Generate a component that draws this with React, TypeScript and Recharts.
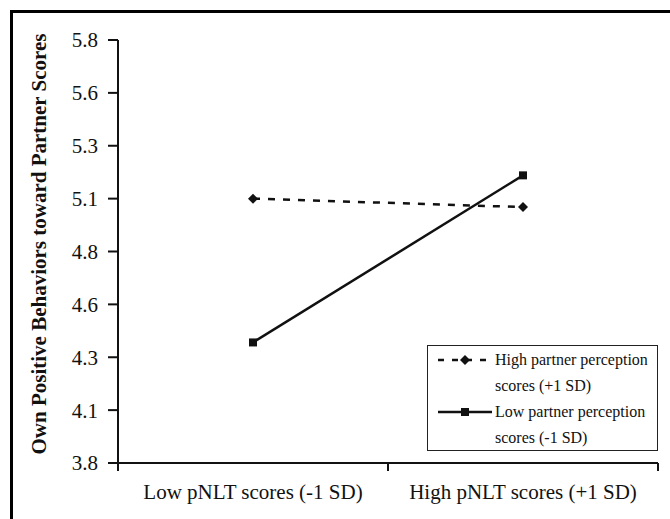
import React from 'react';
import { LineChart, Line, XAxis, YAxis, Legend } from 'recharts';

// values
const categories = ['Low pNLT scores (-1 SD)', 'High pNLT scores (+1 SD)'];
const highPartner = [5.05, 5.01];
const lowPartner = [4.37, 5.16];
const seriesNames = ['High partner perception scores (+1 SD)', 'Low partner perception scores (-1 SD)'];
const yTicks = [3.8, 4.05, 4.3, 4.55, 4.8, 5.05, 5.3, 5.55, 5.8];
const yTickLabels = ['3.8', '4.1', '4.3', '4.6', '4.8', '5.1', '5.3', '5.6', '5.8'];
const yLabel = 'Own Positive Behaviors toward Partner Scores';

const data = categories.map((name, i) => ({ name, high: highPartner[i], low: lowPartner[i] }));

const FONT = 'Liberation Serif';
const INK = '#111';
const X_TICK_MARGIN = 21;

const DiamondDot = ({ cx, cy }: any) => {
  if (cx == null || cy == null) return null;
  return <path d={`M${cx} ${cy - 5}L${cx + 5} ${cy}L${cx} ${cy + 5}L${cx - 5} ${cy}Z`} fill={INK} />;
};

const SquareDot = ({ cx, cy }: any) => {
  if (cx == null || cy == null) return null;
  return <rect x={cx - 4} y={cy - 4} width={8} height={8} fill={INK} />;
};

// category label centred in its band, tick marks on the band edges
const CategoryTick = ({ x, y, payload, index, visibleTicksCount }: any) => {
  const half = payload?.offset ?? 0;
  const axisY = y - X_TICK_MARGIN;
  return (
    <g>
      <line x1={x - half} x2={x - half} y1={axisY} y2={axisY + 8} stroke={INK} strokeWidth={2} />
      {index === visibleTicksCount - 1 && (
        <line x1={x + half} x2={x + half} y1={axisY} y2={axisY + 8} stroke={INK} strokeWidth={2} />
      )}
      <text x={x} y={y} dy="0.71em" textAnchor="middle" fontSize={21} style={{ fontFamily: FONT }} fill={INK}>
        {payload.value}
      </text>
    </g>
  );
};

const YAxisTitle = ({ viewBox }: any) => {
  const x = (viewBox?.x ?? 0) + 46;
  const y = 244;
  return (
    <text
      x={x}
      y={y}
      transform={`rotate(-90, ${x}, ${y})`}
      textAnchor="middle"
      fontSize={21}
      fontWeight="bold"
      style={{ fontFamily: FONT }}
      fill={INK}
    >
      {yLabel}
    </text>
  );
};

const LegendBox = () => (
  <div
    style={{
      boxSizing: 'border-box',
      width: 231,
      height: 106,
      border: '1.5px solid #222',
      background: '#fff',
      paddingTop: 1,
      fontFamily: FONT,
      color: INK,
    }}
  >
    {seriesNames.map((name, i) => (
      <div key={name} style={{ position: 'relative', paddingLeft: 67, width: 160, fontSize: 16, lineHeight: '26px' }}>
        <svg width={54} height={12} style={{ position: 'absolute', left: 10, top: 7 }}>
          <line x1={0} y1={6} x2={54} y2={6} stroke={INK} strokeWidth={2.5} strokeDasharray={i === 0 ? '6 8' : undefined} />
          {i === 0 ? <DiamondDot cx={27} cy={6} /> : <SquareDot cx={27} cy={6} />}
        </svg>
        {name}
      </div>
    ))}
  </div>
);

export default function App() {
  return (
    <div
      style={{
        position: 'absolute',
        left: 0,
        top: 0,
        width: 670,
        height: 519,
        overflow: 'hidden',
        background: '#fff',
        fontFamily: FONT,
      }}
    >
      <div
        style={{
          position: 'absolute',
          left: 10,
          top: 10,
          width: 720,
          height: 600,
          border: '3px solid #000',
        }}
      />
      <div style={{ position: 'absolute', left: 0, top: 0 }}>
        <LineChart width={670} height={519} data={data} margin={{ top: 40, right: 12, left: 0, bottom: 55 }}>
          <XAxis
            xAxisId="cat"
            dataKey="name"
            scale="band"
            height={1}
            tickLine={false}
            tickSize={0}
            tickMargin={X_TICK_MARGIN}
            axisLine={{ stroke: INK, strokeWidth: 2 }}
            tick={<CategoryTick />}
            interval={0}
          />
          <YAxis
            width={118}
            domain={[3.8, 5.8]}
            ticks={yTicks}
            interval={0}
            tickSize={10}
            tickMargin={10}
            tickFormatter={(v: number) => yTickLabels[yTicks.indexOf(v)] ?? String(v)}
            axisLine={{ stroke: INK, strokeWidth: 2 }}
            tickLine={{ stroke: INK, strokeWidth: 2 }}
            tick={{ fill: INK, fontSize: 21, style: { fontFamily: FONT } }}
            label={<YAxisTitle />}
          />
          <Legend
            layout="horizontal"
            verticalAlign="middle"
            content={<LegendBox />}
            wrapperStyle={{ left: 427, top: 345, width: 231 }}
          />
          <Line
            xAxisId="cat"
            dataKey="high"
            name={seriesNames[0]}
            stroke={INK}
            strokeWidth={2.5}
            strokeDasharray="7 8"
            dot={<DiamondDot />}
            isAnimationActive={false}
          />
          <Line
            xAxisId="cat"
            dataKey="low"
            name={seriesNames[1]}
            stroke={INK}
            strokeWidth={2.5}
            dot={<SquareDot />}
            isAnimationActive={false}
          />
        </LineChart>
      </div>
    </div>
  );
}
